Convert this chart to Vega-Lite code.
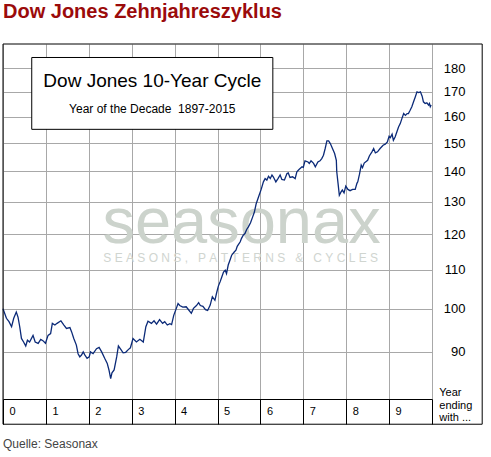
{
  "$schema": "https://vega.github.io/schema/vega-lite/v6.json",
  "width": 429,
  "height": 355,
  "autosize": "none",
  "padding": {"left": 3, "top": 44, "right": 59, "bottom": 58},
  "background": "white",
  "title": {"text": "Dow Jones Zehnjahreszyklus", "anchor": "start", "frame": "group", "offset": 6, "baseline": "alphabetic", "font": "Liberation Sans", "fontSize": 20, "fontWeight": "bold", "color": "#9b0b0b"},
  "config": {"view": {"stroke": null}, "font": "Liberation Sans"},
  "layer": [
    {
      "data": {"values": [{}]},
      "mark": {"type": "text", "text": "seasonax", "font": "Liberation Sans", "fontSize": 65, "color": "#ccd3cc", "align": "center", "baseline": "alphabetic"},
      "encoding": {
        "x": {"datum": 5.56, "type": "quantitative", "scale": {"domain": [0, 10], "nice": false}},
        "y": {"datum": 117.4, "type": "quantitative", "scale": {"type": "log", "domain": [80.2, 191.1], "nice": false}}
      }
    },
    {
      "data": {"values": [{}]},
      "mark": {"type": "text", "text": "S\u00a0E\u00a0A\u00a0S\u00a0O\u00a0N\u00a0S\u00a0,\u00a0\u00a0\u00a0P\u00a0A\u00a0T\u00a0T\u00a0E\u00a0R\u00a0N\u00a0S\u00a0\u00a0\u00a0&\u00a0\u00a0\u00a0C\u00a0Y\u00a0C\u00a0L\u00a0E\u00a0S", "font": "Liberation Sans", "fontSize": 12, "color": "#d0d5d0", "align": "center", "baseline": "alphabetic"},
      "encoding": {
        "x": {"datum": 5.54, "type": "quantitative", "scale": {"domain": [0, 10], "nice": false}},
        "y": {"datum": 112.1, "type": "quantitative", "scale": {"type": "log", "domain": [80.2, 191.1], "nice": false}}
      }
    },
    {
      "data": {"values": [
        {"t":0.00,"v":100.0},{"t":0.08,"v":97.7},{"t":0.14,"v":96.9},{"t":0.20,"v":95.7},{"t":0.25,"v":97.7},{"t":0.31,"v":99.2},{"t":0.35,"v":98.0},{"t":0.39,"v":95.7},{"t":0.43,"v":93.0},{"t":0.48,"v":92.2},
        {"t":0.53,"v":91.3},{"t":0.57,"v":92.6},{"t":0.62,"v":92.2},{"t":0.70,"v":93.7},{"t":0.75,"v":92.2},{"t":0.82,"v":91.9},{"t":0.88,"v":92.8},{"t":0.93,"v":92.5},{"t":0.99,"v":91.9},{"t":1.05,"v":93.7},
        {"t":1.11,"v":94.1},{"t":1.15,"v":96.5},{"t":1.21,"v":96.1},{"t":1.26,"v":96.5},{"t":1.35,"v":97.1},{"t":1.42,"v":96.1},{"t":1.48,"v":95.3},{"t":1.56,"v":95.5},{"t":1.60,"v":94.5},{"t":1.65,"v":93.0},
        {"t":1.71,"v":91.5},{"t":1.75,"v":89.6},{"t":1.79,"v":88.9},{"t":1.83,"v":89.3},{"t":1.87,"v":90.0},{"t":1.91,"v":89.3},{"t":1.96,"v":88.6},{"t":2.01,"v":88.9},{"t":2.04,"v":90.0},{"t":2.10,"v":89.6},
        {"t":2.18,"v":90.7},{"t":2.24,"v":91.0},{"t":2.30,"v":90.0},{"t":2.37,"v":88.6},{"t":2.43,"v":87.5},{"t":2.47,"v":86.1},{"t":2.51,"v":84.3},{"t":2.54,"v":85.5},{"t":2.59,"v":86.1},{"t":2.65,"v":88.9},
        {"t":2.69,"v":91.3},{"t":2.75,"v":90.5},{"t":2.80,"v":89.8},{"t":2.86,"v":89.9},{"t":2.92,"v":90.5},{"t":2.97,"v":90.9},{"t":3.03,"v":93.0},{"t":3.11,"v":92.2},{"t":3.19,"v":92.8},{"t":3.27,"v":92.2},
        {"t":3.33,"v":95.7},{"t":3.38,"v":97.0},{"t":3.46,"v":96.5},{"t":3.52,"v":97.1},{"t":3.58,"v":96.3},{"t":3.65,"v":97.4},{"t":3.72,"v":96.5},{"t":3.77,"v":96.9},{"t":3.83,"v":96.1},{"t":3.89,"v":96.4},
        {"t":3.93,"v":96.2},{"t":3.98,"v":98.4},{"t":4.04,"v":100.1},{"t":4.08,"v":101.3},{"t":4.12,"v":100.8},{"t":4.19,"v":100.4},{"t":4.27,"v":100.5},{"t":4.33,"v":99.7},{"t":4.39,"v":98.9},{"t":4.44,"v":100.1},
        {"t":4.51,"v":100.8},{"t":4.56,"v":101.5},{"t":4.60,"v":100.8},{"t":4.66,"v":100.6},{"t":4.72,"v":99.8},{"t":4.77,"v":99.6},{"t":4.83,"v":100.9},{"t":4.88,"v":103.0},{"t":4.94,"v":102.1},{"t":4.98,"v":104.0},
        {"t":5.02,"v":105.7},{"t":5.06,"v":106.8},{"t":5.10,"v":108.1},{"t":5.14,"v":109.4},{"t":5.18,"v":109.9},{"t":5.21,"v":109.0},{"t":5.25,"v":111.3},{"t":5.29,"v":112.6},{"t":5.33,"v":114.0},{"t":5.39,"v":114.9},
        {"t":5.43,"v":115.4},{"t":5.46,"v":116.5},{"t":5.53,"v":117.8},{"t":5.56,"v":118.8},{"t":5.60,"v":119.7},{"t":5.64,"v":120.2},{"t":5.68,"v":121.4},{"t":5.72,"v":122.2},{"t":5.77,"v":123.4},{"t":5.82,"v":125.2},
        {"t":5.86,"v":126.7},{"t":5.90,"v":129.2},{"t":5.95,"v":131.2},{"t":6.02,"v":134.0},{"t":6.07,"v":136.4},{"t":6.11,"v":137.5},{"t":6.15,"v":137.0},{"t":6.19,"v":138.3},{"t":6.23,"v":137.5},{"t":6.27,"v":138.7},
        {"t":6.30,"v":138.1},{"t":6.36,"v":136.4},{"t":6.41,"v":137.5},{"t":6.46,"v":138.7},{"t":6.50,"v":137.2},{"t":6.56,"v":137.0},{"t":6.62,"v":139.2},{"t":6.65,"v":139.4},{"t":6.69,"v":137.9},{"t":6.75,"v":138.1},
        {"t":6.81,"v":137.5},{"t":6.85,"v":139.8},{"t":6.90,"v":140.6},{"t":6.97,"v":141.5},{"t":7.00,"v":141.3},{"t":7.04,"v":143.6},{"t":7.11,"v":143.2},{"t":7.14,"v":142.7},{"t":7.18,"v":143.6},{"t":7.24,"v":142.7},
        {"t":7.28,"v":141.5},{"t":7.34,"v":143.2},{"t":7.39,"v":143.6},{"t":7.43,"v":144.4},{"t":7.47,"v":145.6},{"t":7.51,"v":148.0},{"t":7.55,"v":150.8},{"t":7.59,"v":150.8},{"t":7.63,"v":149.8},{"t":7.68,"v":148.0},
        {"t":7.73,"v":146.2},{"t":7.77,"v":143.8},{"t":7.78,"v":139.8},{"t":7.81,"v":135.9},{"t":7.84,"v":132.0},{"t":7.88,"v":133.1},{"t":7.91,"v":133.7},{"t":7.95,"v":132.8},{"t":7.99,"v":135.0},{"t":8.04,"v":133.9},
        {"t":8.09,"v":133.5},{"t":8.15,"v":133.9},{"t":8.21,"v":133.9},{"t":8.25,"v":135.9},{"t":8.27,"v":136.4},{"t":8.31,"v":139.0},{"t":8.35,"v":142.1},{"t":8.38,"v":141.2},{"t":8.42,"v":142.8},{"t":8.50,"v":143.8},
        {"t":8.54,"v":145.3},{"t":8.60,"v":146.8},{"t":8.64,"v":148.0},{"t":8.68,"v":146.4},{"t":8.73,"v":146.8},{"t":8.79,"v":148.0},{"t":8.86,"v":149.2},{"t":8.91,"v":149.6},{"t":8.96,"v":150.4},{"t":9.00,"v":152.5},
        {"t":9.03,"v":152.0},{"t":9.07,"v":153.3},{"t":9.10,"v":151.0},{"t":9.14,"v":152.2},{"t":9.18,"v":154.1},{"t":9.22,"v":156.0},{"t":9.26,"v":157.3},{"t":9.30,"v":159.3},{"t":9.34,"v":161.2},{"t":9.38,"v":160.5},
        {"t":9.42,"v":161.2},{"t":9.45,"v":161.2},{"t":9.49,"v":162.5},{"t":9.53,"v":163.9},{"t":9.57,"v":165.9},{"t":9.61,"v":167.9},{"t":9.65,"v":170.0},{"t":9.69,"v":169.7},{"t":9.73,"v":170.0},{"t":9.77,"v":168.2},
        {"t":9.80,"v":165.9},{"t":9.84,"v":165.2},{"t":9.88,"v":165.5},{"t":9.92,"v":164.6},{"t":9.94,"v":165.2},{"t":9.96,"v":163.9},{"t":9.98,"v":164.6}
      ]},
      "mark": {"type": "line", "color": "#0b2a78", "strokeWidth": 1.3},
      "encoding": {
        "x": {"field": "t", "type": "quantitative", "scale": {"domain": [0, 10], "nice": false},
          "axis": {"values": [0,1,2,3,4,5,6,7,8,9,10], "title": null, "format": "d", "tickSize": 25, "tickColor": "black", "domainColor": "black", "labelAlign": "left", "labelBaseline": "middle", "labelOffset": 6, "labelPadding": -13, "labelExpr": "datum.value == 10 ? '' : datum.label", "labelFont": "Liberation Sans", "labelFontSize": 11, "labelColor": "black", "labelFlush": false, "labelOverlap": false, "grid": true, "gridColor": "#a8a8a8"}},
        "y": {"field": "v", "type": "quantitative", "scale": {"type": "log", "domain": [80.2, 191.1], "nice": false},
          "axis": {"orient": "right", "values": [90,100,110,120,130,140,150,160,170,180], "format": "d", "title": null, "ticks": false, "domain": false, "labelPadding": 33, "labelAlign": "right", "labelBaseline": "middle", "labelFont": "Liberation Sans", "labelFontSize": 13, "labelColor": "black", "labelOverlap": false, "grid": true, "gridColor": "#a8a8a8"}}
      }
    },
    {
      "data": {"values": [{}]},
      "mark": {"type": "rect", "fill": "white", "stroke": "black", "strokeWidth": 1},
      "encoding": {
        "x": {"datum": 0.67, "type": "quantitative", "scale": {"domain": [0, 10], "nice": false}},
        "x2": {"datum": 6.29},
        "y": {"datum": 184.9, "type": "quantitative", "scale": {"type": "log", "domain": [80.2, 191.1], "nice": false}},
        "y2": {"datum": 155.1}
      }
    },
    {
      "data": {"values": [{}]},
      "mark": {"type": "text", "text": "Dow Jones 10-Year Cycle", "font": "Liberation Sans", "fontSize": 19, "color": "black", "align": "center", "baseline": "alphabetic"},
      "encoding": {
        "x": {"datum": 3.48, "type": "quantitative", "scale": {"domain": [0, 10], "nice": false}},
        "y": {"datum": 171.97, "type": "quantitative", "scale": {"type": "log", "domain": [80.2, 191.1], "nice": false}}
      }
    },
    {
      "data": {"values": [{}]},
      "mark": {"type": "text", "text": "Year of the Decade\u00a0 1897-2015", "font": "Liberation Sans", "fontSize": 12, "color": "black", "align": "center", "baseline": "alphabetic"},
      "encoding": {
        "x": {"datum": 3.48, "type": "quantitative", "scale": {"domain": [0, 10], "nice": false}},
        "y": {"datum": 161.57, "type": "quantitative", "scale": {"type": "log", "domain": [80.2, 191.1], "nice": false}}
      }
    },
    {
      "data": {"values": [{}]},
      "mark": {"type": "rect", "fillOpacity": 0, "stroke": "black", "strokeWidth": 1},
      "encoding": {
        "x": {"datum": 0, "type": "quantitative", "scale": {"domain": [0, 10], "nice": false}},
        "x2": {"datum": 11.17},
        "y": {"datum": 191.1, "type": "quantitative", "scale": {"type": "log", "domain": [80.2, 191.1], "nice": false}},
        "y2": {"datum": 75.4}
      }
    },
    {
      "data": {"values": [{}]},
      "mark": {"type": "text", "text": ["Year", "ending", "with ..."], "lineHeight": 12.5, "font": "Liberation Sans", "fontSize": 11, "color": "black", "align": "left", "baseline": "alphabetic"},
      "encoding": {
        "x": {"datum": 10.17, "type": "quantitative", "scale": {"domain": [0, 10], "nice": false}},
        "y": {"datum": 80.74, "type": "quantitative", "scale": {"type": "log", "domain": [80.2, 191.1], "nice": false}}
      }
    },
    {
      "data": {"values": [{}]},
      "mark": {"type": "text", "text": "Quelle: Seasonax", "font": "Liberation Sans", "fontSize": 12, "color": "#444444", "align": "left", "baseline": "alphabetic"},
      "encoding": {
        "x": {"datum": 0, "type": "quantitative", "scale": {"domain": [0, 10], "nice": false}},
        "y": {"datum": 71.2, "type": "quantitative", "scale": {"type": "log", "domain": [80.2, 191.1], "nice": false}}
      }
    }
  ]
}
